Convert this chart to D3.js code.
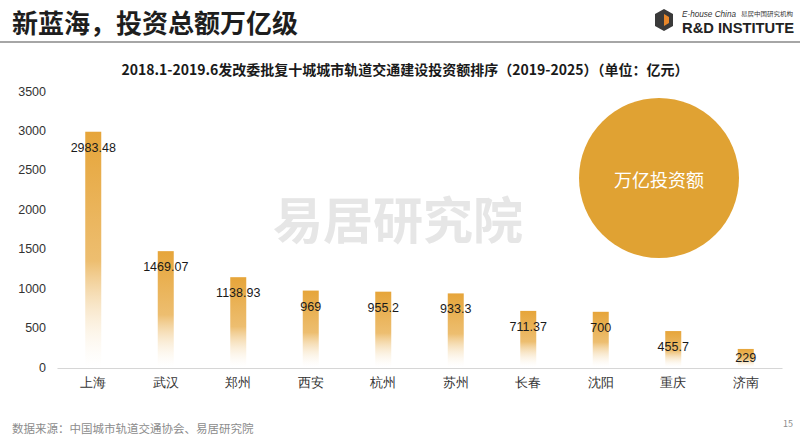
<!DOCTYPE html>
<html>
<head>
<meta charset="utf-8">
<script src="https://cdn.jsdelivr.net/npm/d3@7"></script>
<style>
  body { margin: 0; background: #fff; }
  svg { display: block; font-family: "Noto Sans CJK SC", "Noto Sans", sans-serif; }
</style>
</head>
<body>
<svg id="chart" width="800" height="439"></svg>
<script>
// city names and investment (亿元)
var cities = ["上海", "武汉", "郑州", "西安", "杭州", "苏州", "长春", "沈阳", "重庆", "济南"];
var values = [2983.48, 1469.07, 1138.93, 969, 955.2, 933.3, 711.37, 700, 455.7, 229];
var labels = ["2983.48", "1469.07", "1138.93", "969", "955.2", "933.3", "711.37", "700", "455.7", "229"];
var yTicks = [0, 500, 1000, 1500, 2000, 2500, 3000, 3500];

var svg = d3.select("#chart");

// gradient for the bars: solid orange top, fading out at the bottom
var defs = svg.append("defs");
var grad = defs.append("linearGradient")
  .attr("id", "barGrad")
  .attr("x1", 0).attr("y1", 0).attr("x2", 0).attr("y2", 1);
grad.append("stop").attr("offset", "0%").attr("stop-color", "#E6A53A");
grad.append("stop").attr("offset", "55%").attr("stop-color", "#EDBE70");
grad.append("stop").attr("offset", "100%").attr("stop-color", "#FFFFFF").attr("stop-opacity", 0.2);

// slide header
svg.append("text")
  .attr("x", 12).attr("y", 33)
  .attr("font-size", 26).attr("font-weight", 700)
  .attr("fill", "#1e1e1e")
  .text("新蓝海，投资总额万亿级");

svg.append("line")
  .attr("x1", 0).attr("x2", 800).attr("y1", 42).attr("y2", 42)
  .attr("stroke", "#a6a6a6").attr("stroke-width", 2);

// logo
var logo = svg.append("g").attr("transform", "translate(655,9)");
logo.append("path")
  .attr("d", "M9,0 L18,5 L18,17 L9,22 L0,17 L0,5 Z")
  .attr("fill", "#3a3a3a");
logo.append("path")
  .attr("d", "M9,5 L14,8 L14,14 L9,17 Z")
  .attr("fill", "#E8872A");
logo.append("text")
  .attr("x", 27).attr("y", 8)
  .attr("font-size", 9).attr("font-style", "italic")
  .attr("fill", "#333")
  .attr("font-family", "Liberation Sans Narrow, Liberation Sans, sans-serif")
  .attr("textLength", 54).attr("lengthAdjust", "spacingAndGlyphs")
  .text("E-house China");
logo.append("text")
  .attr("x", 86).attr("y", 7)
  .attr("font-size", 5.5).attr("fill", "#333")
  .attr("textLength", 52).attr("lengthAdjust", "spacingAndGlyphs")
  .text("易居中国研究机构");
logo.append("text")
  .attr("x", 27).attr("y", 24)
  .attr("font-size", 14).attr("font-weight", 700)
  .attr("fill", "#222")
  .attr("font-family", "Liberation Sans Narrow, Liberation Sans, sans-serif")
  .attr("textLength", 112).attr("lengthAdjust", "spacingAndGlyphs")
  .text("R&D INSTITUTE");

// chart title
svg.append("text")
  .attr("x", 405).attr("y", 75)
  .attr("text-anchor", "middle")
  .attr("font-size", 14).attr("font-weight", 700)
  .attr("fill", "#1a1a1a")
  .text("2018.1-2019.6发改委批复十城城市轨道交通建设投资额排序（2019-2025）（单位：亿元）");

// watermark
svg.append("text")
  .attr("x", 398).attr("y", 239)
  .attr("text-anchor", "middle")
  .attr("font-size", 50).attr("font-weight", 700)
  .attr("fill", "#e0e0e0")
  .attr("opacity", 0.8)
  .text("易居研究院");

// scales
var x = d3.scaleBand().domain(cities).range([57, 782]);
var y = d3.scaleLinear().domain([0, 3500]).range([367, 91]);
var barW = 16;

// y axis labels only
var yAxis = d3.axisLeft(y).tickValues(yTicks).tickFormat(d3.format("d")).tickSize(0).tickPadding(0);
var gy = svg.append("g").attr("transform", "translate(46,0)").call(yAxis);
gy.select(".domain").remove();
gy.selectAll("text")
  .attr("font-size", 12.5).attr("fill", "#333")
  .attr("font-family", "Liberation Sans, sans-serif");

// x axis
var xAxis = d3.axisBottom(x).tickSize(0).tickPadding(10);
var gx = svg.append("g").attr("transform", "translate(0,368)").call(xAxis);
gx.select(".domain").attr("stroke", "#d6d6d6").attr("stroke-width", 1.2);
gx.selectAll("text").attr("font-size", 13).attr("fill", "#333");

// bars
svg.append("g").selectAll("rect")
  .data(values)
  .join("rect")
  .attr("x", (d, i) => x(cities[i]) + x.bandwidth() / 2 - barW / 2)
  .attr("y", d => y(d))
  .attr("width", barW)
  .attr("height", d => y(0) - y(d))
  .attr("fill", "url(#barGrad)");

// value labels inside the bar tops
svg.append("g").selectAll("text")
  .data(values)
  .join("text")
  .attr("x", (d, i) => x(cities[i]) + x.bandwidth() / 2)
  .attr("y", d => Math.min(y(d) + 20, y(0) - 5))
  .attr("text-anchor", "middle")
  .attr("font-size", 12.5)
  .attr("fill", "#1a1a1a")
  .attr("font-family", "Liberation Sans, sans-serif")
  .text((d, i) => labels[i]);

// callout circle
svg.append("circle")
  .attr("cx", 659).attr("cy", 178).attr("r", 80)
  .attr("fill", "#E0A233");
svg.append("text")
  .attr("x", 659).attr("y", 187)
  .attr("text-anchor", "middle")
  .attr("font-size", 18)
  .attr("fill", "#fff")
  .text("万亿投资额");

// footer
svg.append("text")
  .attr("x", 12).attr("y", 433)
  .attr("font-size", 11.5).attr("fill", "#8c8c8c")
  .text("数据来源：中国城市轨道交通协会、易居研究院");
svg.append("text")
  .attr("x", 793).attr("y", 427)
  .attr("text-anchor", "end")
  .attr("font-size", 9).attr("fill", "#8c8c8c")
  .text("15");
</script>
</body>
</html>
